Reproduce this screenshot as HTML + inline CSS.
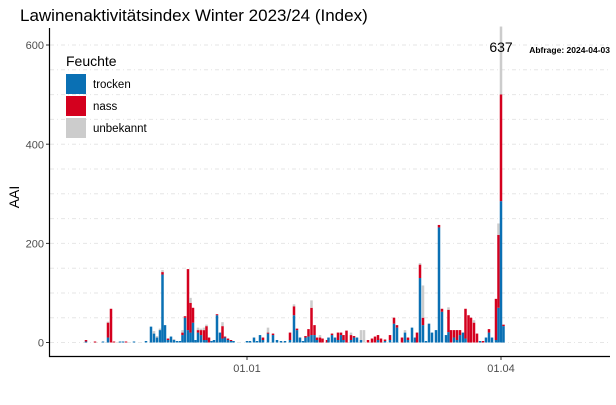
<!DOCTYPE html>
<html><head><meta charset="utf-8"><style>
body{margin:0;background:#fff;width:616px;height:400px;overflow:hidden;font-family:"Liberation Sans",sans-serif}
</style></head><body>
<svg id="s" width="616" height="400" xmlns="http://www.w3.org/2000/svg" font-family="Liberation Sans, sans-serif">
<rect width="616" height="400" fill="#fff"/>
<g stroke="#e6e6e6" stroke-width="1" stroke-dasharray="4,3,1,3">
<line x1="50" x2="610" y1="342.5" y2="342.5"/>
<line x1="50" x2="610" y1="317.7" y2="317.7"/>
<line x1="50" x2="610" y1="293" y2="293"/>
<line x1="50" x2="610" y1="268.2" y2="268.2"/>
<line x1="50" x2="610" y1="243.4" y2="243.4"/>
<line x1="50" x2="610" y1="218.6" y2="218.6"/>
<line x1="50" x2="610" y1="193.8" y2="193.8"/>
<line x1="50" x2="610" y1="169" y2="169"/>
<line x1="50" x2="610" y1="144.2" y2="144.2"/>
<line x1="50" x2="610" y1="119.4" y2="119.4"/>
<line x1="50" x2="610" y1="94.6" y2="94.6"/>
<line x1="50" x2="610" y1="69.8" y2="69.8"/>
<line x1="50" x2="610" y1="45" y2="45"/>
</g>
<g id="bars"></g>
<line x1="49.5" x2="49.5" y1="28" y2="357" stroke="#000" stroke-width="1.2"/>
<line x1="49" x2="610" y1="356.5" y2="356.5" stroke="#000" stroke-width="1.2"/>
<g stroke="#333"><line x1="247" x2="247" y1="357" y2="360"/><line x1="501" x2="501" y1="357" y2="360"/>
<line x1="46" x2="49" y1="342.5" y2="342.5"/><line x1="46" x2="49" y1="243.4" y2="243.4"/><line x1="46" x2="49" y1="144.2" y2="144.2"/><line x1="46" x2="49" y1="45" y2="45"/></g>
<g font-size="11" fill="#4d4d4d" text-anchor="end">
<text x="44" y="346.5">0</text><text x="44" y="247.5">200</text><text x="44" y="148.5">400</text><text x="44" y="49">600</text></g>
<g font-size="11" fill="#4d4d4d" text-anchor="middle"><text x="247" y="372">01.01</text><text x="501" y="372">01.04</text></g>
<text x="19" y="197" font-size="14" text-anchor="middle" transform="rotate(-90 19 197)">AAI</text>
<text x="20" y="21" font-size="17">Lawinenaktivitätsindex Winter 2023/24 (Index)</text>
<text x="501" y="52" font-size="14" text-anchor="middle">637</text>
<text x="610" y="53" font-size="8.5" font-weight="bold" text-anchor="end">Abfrage: 2024-04-03</text>
<text x="66" y="66" font-size="14">Feuchte</text>
<rect x="66" y="74" width="20" height="20" fill="#0a70b4"/>
<rect x="66" y="96" width="20" height="20" fill="#d4001e"/>
<rect x="66" y="118" width="20" height="20" fill="#cccccc"/>
<g font-size="11.5"><text x="93" y="88">trocken</text><text x="93" y="110">nass</text><text x="93" y="132">unbekannt</text></g>
</svg>
<script>
var d=[[86,2,3,0],[95,0,2,0],[103,2,0,0],[108,10,30,2],[111,0,68,0],[114,0,2,0],[120,2,0,0],[123,2,0,0],[126,0,2,0],[134,2,0,0],[146,3,0,0],[151,32,0,0],[154,18,0,5],[157,10,0,3],[160,25,0,3],[162.5,137,5,4],[165,35,0,0],[168,5,3,0],[171,12,0,0],[174,5,0,2],[177,3,0,0],[180,3,0,0],[182.5,15,5,5],[185,50,3,0],[188,25,123,0],[190.5,20,60,10],[193,40,30,0],[195.5,5,0,0],[198,20,5,5],[201,15,10,3],[204,5,20,5],[206.5,5,28,3],[209,0,10,0],[211.5,3,0,0],[214,5,0,0],[217,55,2,0],[220,20,0,0],[222.5,8,25,8],[225,10,2,0],[228,5,3,0],[231,3,2,0],[233.5,3,0,0],[247,3,0,0],[250,3,0,0],[254,10,0,0],[257,3,0,0],[260,15,0,0],[263,5,5,0],[268,18,2,10],[273,15,3,0],[277,5,0,0],[281,3,0,0],[285,3,0,0],[290,5,15,0],[294,55,18,4],[297,25,3,0],[300,10,0,0],[303,3,0,0],[305.5,10,3,0],[308.5,12,15,0],[311.5,15,55,15],[314.5,15,20,0],[317,5,5,0],[320,0,10,5],[322.5,0,8,0],[327,0,5,0],[328.5,10,0,0],[332,15,3,0],[335,10,0,0],[338,5,15,0],[341,15,5,0],[343.5,5,10,0],[346.5,0,24,0],[351,5,10,5],[354,10,3,0],[357,10,0,0],[361,5,0,20],[364,0,0,25],[368,0,5,0],[372,0,8,0],[375,0,12,0],[378,5,10,0],[381,0,8,0],[385,3,3,0],[390,5,10,0],[394,38,12,0],[397,30,5,0],[402,0,10,0],[405,20,0,5],[408,5,5,0],[412,30,0,0],[415,10,0,0],[417,0,20,0],[420,130,27,3],[423,35,15,65],[426,3,0,0],[429,38,0,0],[432,20,0,0],[436,25,0,0],[439,232,5,0],[442,62,6,0],[446,15,0,0],[448.5,21,45,5],[451,0,25,0],[454,10,15,0],[457,5,20,0],[460,15,10,0],[463,20,0,0],[465.5,8,60,0],[468.5,0,55,0],[471,0,50,0],[474,0,40,5],[477,0,18,0],[480,3,0,0],[483,0,3,0],[486,10,0,0],[489,20,7,0],[492,10,0,0],[496,5,83,0],[498.5,70,147,23],[501,285,215,137],[503.5,33,3,0]];
var s=0.496,z=342.5,w=2.5,h='';
d.forEach(function(b){var x=b[0]-w/2,y=z;[[b[1],'#0a70b4'],[b[2],'#d4001e'],[b[3],'#cccccc']].forEach(function(p){if(p[0]>0){var hh=p[0]*s;y-=hh;h+='<rect x="'+x+'" y="'+y+'" width="'+w+'" height="'+hh+'" fill="'+p[1]+'"/>';}});});
document.getElementById('bars').innerHTML=h;
</script>
</body></html>
